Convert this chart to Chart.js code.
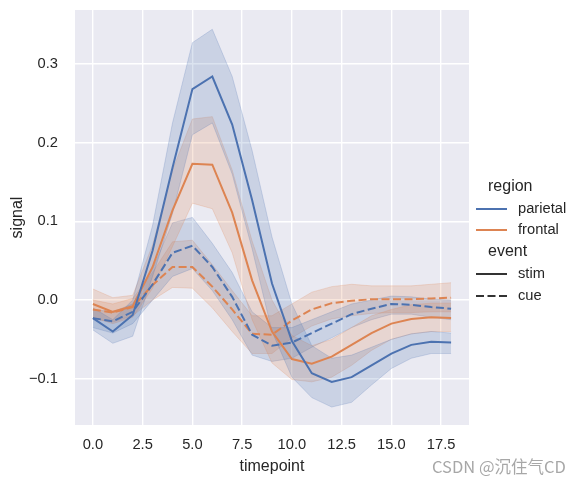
<!DOCTYPE html>
<html>
<head>
<meta charset="utf-8">
<script src="https://cdn.jsdelivr.net/npm/chart.js@4/dist/chart.umd.min.js"></script>
<style>
  html, body { margin: 0; padding: 0; background: #fff; }
  canvas { display: block; }
</style>
</head>
<body>
<canvas id="chart" width="582" height="484"></canvas>
<script>
// fmri signal by timepoint
const timepoints = [0, 1, 2, 3, 4, 5, 6, 7, 8, 9, 10, 11, 12, 13, 14, 15, 16, 17, 18];

const parietalStim   = [-0.023, -0.040, -0.019, 0.063, 0.168, 0.268, 0.284, 0.223, 0.127, 0.021, -0.052, -0.093, -0.104, -0.098, -0.083, -0.068, -0.057, -0.053, -0.054];
const parietalStimHi = [-0.010, -0.025, 0.000, 0.095, 0.225, 0.327, 0.344, 0.284, 0.190, 0.080, -0.005, -0.058, -0.074, -0.070, -0.060, -0.050, -0.043, -0.040, -0.042];
const parietalStimLo = [-0.038, -0.055, -0.046, 0.030, 0.110, 0.210, 0.225, 0.160, 0.065, -0.040, -0.098, -0.124, -0.136, -0.130, -0.108, -0.087, -0.074, -0.068, -0.068];

const frontalStim   = [-0.005, -0.015, -0.008, 0.042, 0.114, 0.173, 0.172, 0.111, 0.025, -0.040, -0.075, -0.081, -0.072, -0.057, -0.042, -0.030, -0.024, -0.022, -0.023];
const frontalStimHi = [0.014, 0.003, 0.006, 0.070, 0.165, 0.230, 0.233, 0.165, 0.075, 0.000, -0.045, -0.058, -0.050, -0.035, -0.020, -0.012, -0.006, -0.004, -0.004];
const frontalStimLo = [-0.022, -0.030, -0.022, 0.015, 0.068, 0.123, 0.116, 0.060, -0.025, -0.080, -0.101, -0.104, -0.098, -0.083, -0.064, -0.050, -0.043, -0.040, -0.040];

const parietalCue   = [-0.023, -0.027, -0.015, 0.020, 0.060, 0.069, 0.042, 0.004, -0.044, -0.058, -0.054, -0.042, -0.030, -0.018, -0.011, -0.005, -0.006, -0.009, -0.011];
const parietalCueHi = [-0.012, -0.015, -0.005, 0.040, 0.098, 0.105, 0.072, 0.035, -0.015, -0.035, -0.035, -0.025, -0.015, -0.005, 0.000, 0.005, 0.004, 0.001, 0.000];
const parietalCueLo = [-0.035, -0.042, -0.030, 0.000, 0.030, 0.040, 0.012, -0.025, -0.070, -0.078, -0.074, -0.060, -0.048, -0.035, -0.025, -0.018, -0.018, -0.022, -0.025];

const frontalCue   = [-0.012, -0.016, -0.009, 0.019, 0.042, 0.042, 0.017, -0.012, -0.043, -0.044, -0.026, -0.012, -0.004, -0.001, 0.001, 0.001, 0.001, 0.002, 0.003];
const frontalCueHi = [0.000, -0.005, 0.002, 0.035, 0.074, 0.076, 0.045, 0.012, -0.020, -0.020, -0.005, 0.010, 0.017, 0.020, 0.018, 0.018, 0.018, 0.020, 0.022];
const frontalCueLo = [-0.024, -0.028, -0.020, 0.000, 0.016, 0.015, -0.010, -0.040, -0.068, -0.068, -0.048, -0.033, -0.024, -0.020, -0.017, -0.016, -0.016, -0.015, -0.015];

const xTicks = [0, 2.5, 5, 7.5, 10, 12.5, 15, 17.5];
const yTicks = [-0.1, 0, 0.1, 0.2, 0.3];
const xRange = [-0.9, 18.9];
const yRange = [-0.1588, 0.3685];

const regions = ['parietal', 'frontal'];
const events = ['stim', 'cue'];

const BLUE = [76, 114, 176];
const ORANGE = [221, 132, 82];
const TEXT = '#262626';
const FONT = '"Liberation Sans", Arial, sans-serif';
const CUE_DASH = [8, 3.5];

function rgba(c, a) { return 'rgba(' + c[0] + ',' + c[1] + ',' + c[2] + ',' + a + ')'; }
function pts(vals) { return timepoints.map((t, i) => ({x: t, y: vals[i]})); }

function band(lo, hi, color) {
    return [
        { data: pts(lo), borderColor: rgba(color, 0.22), borderWidth: 1, pointRadius: 0, fill: false, order: 1 },
        { data: pts(hi), borderColor: rgba(color, 0.22), borderWidth: 1, pointRadius: 0, fill: '-1', backgroundColor: rgba(color, 0.2), order: 1 }
    ];
}

function line(vals, color, dash) {
    return { data: pts(vals), borderColor: rgba(color, 1), borderWidth: 2, borderDash: dash, pointRadius: 0, fill: false, order: 0 };
}

const datasets = [].concat(
    band(parietalStimLo, parietalStimHi, BLUE),
    band(frontalStimLo, frontalStimHi, ORANGE),
    band(parietalCueLo, parietalCueHi, BLUE),
    band(frontalCueLo, frontalCueHi, ORANGE),
    [line(parietalStim, BLUE, []), line(frontalStim, ORANGE, []),
     line(parietalCue, BLUE, CUE_DASH), line(frontalCue, ORANGE, CUE_DASH)]
);

// grey plot background
const plotBg = {
    id: 'plotBg',
    beforeDraw(chart) {
        const a = chart.chartArea, ctx = chart.ctx;
        ctx.save();
        ctx.fillStyle = '#EAEAF2';
        ctx.fillRect(a.left, a.top, a.right - a.left, a.bottom - a.top);
        ctx.restore();
    }
};

// seaborn style legend with section titles, plus the watermark
const sideLegend = {
    id: 'sideLegend',
    afterDraw(chart) {
        const ctx = chart.ctx;
        ctx.save();
        ctx.textBaseline = 'middle';
        ctx.textAlign = 'left';
        ctx.fillStyle = TEXT;

        ctx.font = '16px ' + FONT;
        ctx.fillText('region', 488, 187);
        ctx.fillText('event', 488, 252);

        const rows = [
            {label: regions[0], y: 209, color: rgba(BLUE, 1), dash: []},
            {label: regions[1], y: 230, color: rgba(ORANGE, 1), dash: []},
            {label: events[0], y: 274, color: '#333333', dash: []},
            {label: events[1], y: 296, color: '#333333', dash: CUE_DASH}
        ];
        ctx.font = '14.7px ' + FONT;
        rows.forEach(r => {
            ctx.beginPath();
            ctx.strokeStyle = r.color;
            ctx.lineWidth = 2;
            ctx.setLineDash(r.dash);
            ctx.moveTo(476, r.y);
            ctx.lineTo(507, r.y);
            ctx.stroke();
            ctx.fillText(r.label, 518, r.y);
        });
        ctx.setLineDash([]);

        ctx.font = '16.5px "Noto Sans CJK SC", ' + FONT;
        ctx.fillStyle = 'rgba(120,120,120,0.65)';
        ctx.fillText('CSDN @沉住气CD', 432, 467);
        ctx.restore();
    }
};

new Chart(document.getElementById('chart'), {
    type: 'line',
    data: { datasets: datasets },
    options: {
        responsive: false,
        animation: false,
        devicePixelRatio: 1,
        layout: { padding: { top: 10, right: 113, left: 0, bottom: 0 } },
        plugins: { legend: { display: false }, tooltip: { enabled: false } },
        elements: { line: { tension: 0 } },
        scales: {
            x: {
                type: 'linear',
                min: xRange[0],
                max: xRange[1],
                afterBuildTicks: s => { s.ticks = xTicks.map(v => ({value: v})); },
                afterFit: s => { s.height = 59; s.paddingLeft = 0; s.paddingRight = 0; },
                ticks: { padding: 11, color: TEXT, font: { family: FONT, size: 14.7 }, callback: v => v.toFixed(1), maxRotation: 0 },
                grid: { color: '#ffffff', lineWidth: 1.4, drawTicks: false },
                border: { display: false },
                title: { display: true, text: 'timepoint', color: TEXT, font: { family: FONT, size: 16 }, padding: { top: 0, bottom: 8 } }
            },
            y: {
                min: yRange[0],
                max: yRange[1],
                afterBuildTicks: s => { s.ticks = yTicks.map(v => ({value: v})); },
                afterFit: s => { s.width = 75; s.paddingTop = 0; s.paddingBottom = 0; },
                ticks: { padding: 17, color: TEXT, font: { family: FONT, size: 14.7 },
                         callback: v => v < 0 ? '\u2212' + Math.abs(v).toFixed(1) : v.toFixed(1) },
                grid: { color: '#ffffff', lineWidth: 1.4, drawTicks: false },
                border: { display: false },
                title: { display: true, text: 'signal', color: TEXT, font: { family: FONT, size: 16 }, padding: { top: 8, bottom: 0 } }
            }
        }
    },
    plugins: [plotBg, sideLegend]
});
</script>
</body>
</html>
